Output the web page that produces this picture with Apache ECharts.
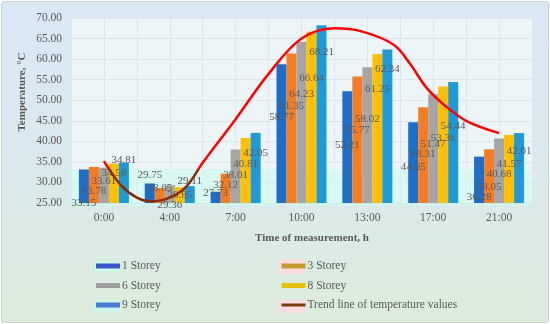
<!DOCTYPE html>
<html>
<head>
<meta charset="utf-8">
<script src="https://cdn.jsdelivr.net/npm/echarts@6/dist/echarts.min.js"></script>
<style>
html,body{margin:0;padding:0;}
#wrap{position:absolute;left:1px;top:1px;width:546px;height:320px;border:1px solid #cfd6da;border-radius:3px;
background:linear-gradient(180deg,#d9e8f5 0%,#dae9ee 50%,#dcecdb 100%);overflow:hidden;}
#chart{width:546px;height:320px;}
</style>
</head>
<body>
<div id="wrap"><div id="chart"></div></div>
<script>
const categories = ['0:00','4:00','7:00','10:00','13:00','17:00','21:00'];
const storey1 = [33.15, 29.75, 27.73, 58.77, 52.21, 44.65, 36.28];
const storey3 = [33.78, 28.65, 32.12, 61.35, 55.77, 48.31, 38.05];
const storey6 = [33.61, 29.36, 38.01, 64.23, 58.02, 51.47, 40.68];
const storey8 = [34.58, 28.85, 40.81, 66.64, 61.25, 53.36, 41.57];
const storey9 = [34.81, 29.11, 42.05, 68.21, 62.34, 54.44, 42.01];
// where each value label sits (in °C on the axis)
const labelAt1 = [25.0, 31.8, 27.45, 45.9, 39.1, 33.75, 26.45];
const labelAt3 = [27.9, 28.65, 29.4, 48.6, 42.75, 36.9, 28.9];
const labelAt6 = [30.35, 24.5, 31.8, 51.5, 45.4, 39.35, 32.05];
const labelAt8 = [32.3, 26.95, 34.5, 55.4, 52.7, 40.8, 34.5];
const labelAt9 = [35.45, 30.35, 37.15, 61.75, 57.6, 43.7, 37.65];
// trend line read along the time axis (category index positions)
const trendX = [0, 0.26, 0.5, 0.71, 1.0, 1.25, 1.5, 2.0, 2.5, 3.0, 3.5, 3.9, 4.4, 4.65, 4.9, 5.15, 5.5, 6.0];
const trendY = [35.2, 29.3, 26.3, 25.4, 26.3, 29.0, 34.8, 45.4, 56.4, 65.0, 67.5, 66.8, 63.5, 58.8, 53.0, 49.1, 45.0, 42.0];
const yTicks = [25, 30, 35, 40, 45, 50, 55, 60, 65, 70];
const bandTop = 33.3;

const names = ['1 Storey','3 Storey','6 Storey','8 Storey','9 Storey'];
const values = [storey1, storey3, storey6, storey8, storey9];
const labelAts = [labelAt1, labelAt3, labelAt6, labelAt8, labelAt9];
const barColors = ['#1d6ec8','#f67c22','#a5a5a5','#ffc000','#1f9ad8'];
const legendColors = ['#3c57c8','#c49a2c','#a0a0a0','#e6c200','#4a7bd8'];
const txt = '#595959';
const serif = '"Liberation Serif","Times New Roman",serif';

const series = [];
names.forEach((n,i)=>{
  series.push({
    name:n, type:'bar', xAxisIndex:0, yAxisIndex:0,
    data: values[i], barWidth:10, barGap:'0%',
    itemStyle:{color:barColors[i]}, z:2
  });
});
names.forEach((n,i)=>{
  series.push({
    type:'scatter', xAxisIndex:0, yAxisIndex:0, silent:true, clip:false,
    symbolSize:1, itemStyle:{color:'rgba(0,0,0,0)'}, z:5,
    data: labelAts[i].map((v,k)=>[k,v]),
    label:{show:true, position:'inside', offset:[(i-2)*10,0], opacity:1,
      formatter:p=>values[i][p.dataIndex].toFixed(2),
      color:txt, fontFamily:serif, fontSize:11}
  });
});
const trendIndex = series.length;
series.push({
  name:'Trend line of temperature values', type:'line', xAxisIndex:1, yAxisIndex:0,
  data: trendX.map((x,k)=>[x,trendY[k]]), smooth:0.35, symbol:'none',
  lineStyle:{width:2.5, color:'#ff0000'}, itemStyle:{color:'#7b3b12'}, z:6
});

const chart = echarts.init(document.getElementById('chart'), null, {renderer:'canvas'});
const baseGraphic = [
  {type:'rect', left:93, top:259, shape:{width:26, height:12}, style:{fill:'#cdf6e8'}, z:0},
  {type:'rect', left:277, top:257, shape:{width:26, height:15}, style:{fill:'#fadde0'}, z:0},
  {type:'rect', left:93, top:298, shape:{width:26, height:13}, style:{fill:'#cdf6e8'}, z:0},
  {type:'rect', left:277, top:298, shape:{width:26, height:13}, style:{fill:'#fadde0'}, z:0},
  {type:'text', x:20, y:90, rotation:Math.PI/2, z:10,
   style:{text:'Temperature, °C', fill:txt, font:'bold 11px '+serif, textAlign:'center', textVerticalAlign:'middle'}},
  {type:'text', x:310, y:236, z:10,
   style:{text:'Time of measurement, h', fill:txt, font:'bold 11px '+serif, textAlign:'center', textVerticalAlign:'middle'}}
];
const legendText = {color:txt, fontFamily:serif, fontSize:11.5, lineHeight:14, padding:[0,0,0,-3]};
chart.setOption({
  animation:false,
  grid:{left:69, right:16, top:16, bottom:119, show:true, backgroundColor:'#eef5f8', borderWidth:0},
  xAxis:[
    {type:'category', data:categories, boundaryGap:true,
     axisLine:{show:true, lineStyle:{color:'#ccd5da'}}, axisTick:{show:false},
     axisLabel:{color:txt, fontFamily:serif, fontSize:11.5, margin:9},
     splitLine:{show:false}},
    {type:'value', min:-0.5, max:6.5, interval:0.5, show:true,
     axisLine:{show:false}, axisTick:{show:false}, axisLabel:{show:false},
     splitLine:{show:true, lineStyle:{color:'#dde6ec', width:1}}}
  ],
  yAxis:{type:'value', min:yTicks[0], max:yTicks[yTicks.length-1], interval:5,
    axisLine:{show:false}, axisTick:{show:false},
    axisLabel:{color:txt, fontFamily:serif, fontSize:11.5, margin:9, formatter:v=>v.toFixed(2)},
    splitLine:{lineStyle:{color:'#dde6ec', width:1}}},
  legend:[
    {orient:'vertical', left:89, top:252, itemWidth:24, itemHeight:5, itemGap:5.5,
     textStyle:legendText,
     data:[{name:'1 Storey', icon:'rect', itemStyle:{color:legendColors[0]}},
           {name:'6 Storey', icon:'rect', itemStyle:{color:legendColors[2]}},
           {name:'9 Storey', icon:'rect', itemStyle:{color:legendColors[4]}}]},
    {orient:'vertical', left:273, top:252, itemWidth:24, itemHeight:5, itemGap:5.5,
     textStyle:legendText,
     data:[{name:'3 Storey', icon:'rect', itemStyle:{color:legendColors[1]}},
           {name:'8 Storey', icon:'rect', itemStyle:{color:legendColors[3]}},
           {name:'Trend line of temperature values', itemStyle:{color:'rgba(0,0,0,0)', borderWidth:0, opacity:0},
            lineStyle:{color:'#7b3b12', width:3}}]}
  ],
  graphic: baseGraphic,
  series: series
});
// light band near the bottom of the plot and darker trend colour inside it, placed through the axis scale
const yTopPx = chart.convertToPixel({yAxisIndex:0}, bandTop);
const yBotPx = chart.convertToPixel({yAxisIndex:0}, yTicks[0]);
const xL = chart.convertToPixel({xAxisIndex:1}, -0.5);
const xR = chart.convertToPixel({xAxisIndex:1}, 6.5);
const trendUpdate = series.map(()=>({}));
trendUpdate[trendIndex] = {lineStyle:{color:{type:'linear', x:0, y:yTopPx-0.5, x2:0, y2:yTopPx+0.5, global:true,
  colorStops:[{offset:0, color:'#ff0000'},{offset:1, color:'#8a2c0c'}]}}};
chart.setOption({
  graphic: baseGraphic.concat([
    {type:'rect', shape:{x:xL, y:yTopPx, width:xR-xL, height:yBotPx-yTopPx+3}, style:{fill:'rgba(205,250,236,0.6)'}, z:1, silent:true}
  ]),
  series: trendUpdate
});
</script>
</body>
</html>
